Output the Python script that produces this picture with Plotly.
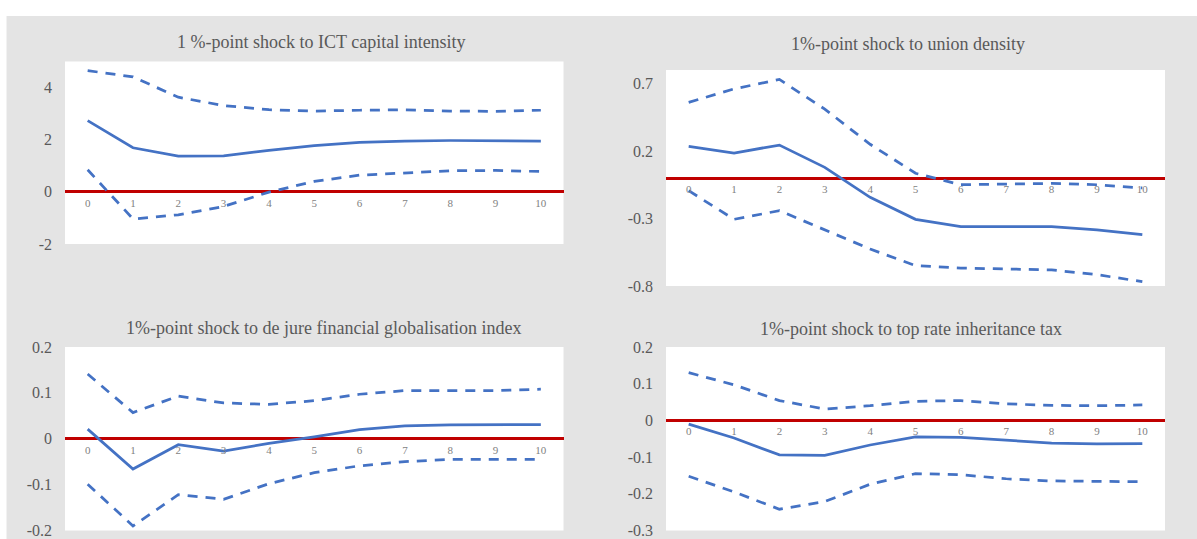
import plotly.graph_objects as go

# ---------------- data ----------------
horizon = list(range(11))
horizon_labels = [str(h) for h in horizon]

ict_upper = [4.65, 4.41, 3.63, 3.31, 3.15, 3.10, 3.13, 3.15, 3.10, 3.09, 3.13]
ict_irf = [2.73, 1.69, 1.37, 1.38, 1.59, 1.77, 1.90, 1.95, 1.97, 1.97, 1.95]
ict_lower = [0.85, -1.04, -0.88, -0.56, -0.01, 0.40, 0.64, 0.73, 0.81, 0.82, 0.78]

union_upper = [0.56, 0.66, 0.73, 0.51, 0.25, 0.035, -0.05, -0.044, -0.04, -0.05, -0.074]
union_irf = [0.235, 0.185, 0.244, 0.079, -0.143, -0.306, -0.36, -0.36, -0.36, -0.385, -0.42]
union_lower = [-0.094, -0.306, -0.242, -0.385, -0.526, -0.649, -0.667, -0.674, -0.681, -0.716, -0.768]

fin_upper = [0.141, 0.057, 0.093, 0.078, 0.075, 0.083, 0.097, 0.105, 0.105, 0.105, 0.108]
fin_irf = [0.021, -0.066, -0.013, -0.027, -0.01, 0.004, 0.020, 0.028, 0.030, 0.030, 0.031]
fin_lower = [-0.099, -0.19, -0.122, -0.132, -0.098, -0.074, -0.059, -0.05, -0.045, -0.045, -0.045]

inh_upper = [0.13, 0.097, 0.054, 0.031, 0.04, 0.052, 0.054, 0.045, 0.041, 0.04, 0.042]
inh_irf = [-0.01, -0.048, -0.094, -0.095, -0.067, -0.045, -0.046, -0.055, -0.062, -0.064, -0.063]
inh_lower = [-0.152, -0.195, -0.242, -0.221, -0.174, -0.145, -0.148, -0.159, -0.165, -0.167, -0.167]

titles = [
    "1 %-point shock to ICT capital intensity",
    "1%-point shock to union density",
    "1%-point shock to de jure financial globalisation index",
    "1%-point shock to top rate inheritance tax",
]
y_ticks = [
    [-2, 0, 2, 4],
    [-0.8, -0.3, 0.2, 0.7],
    [-0.2, -0.1, 0, 0.1, 0.2],
    [-0.3, -0.2, -0.1, 0, 0.1, 0.2],
]
y_ranges = [[-2, 5], [-0.8, 0.8], [-0.2, 0.2], [-0.3, 0.2]]

series = [
    (ict_upper, ict_irf, ict_lower),
    (union_upper, union_irf, union_lower),
    (fin_upper, fin_irf, fin_lower),
    (inh_upper, inh_irf, inh_lower),
]

# ---------------- layout (pixels) ----------------
W, H = 1197, 539
# plot boxes: x0, x1, y_top, y_bottom
boxes = [
    (65, 563.5, 61.5, 244),
    (666, 1165, 70, 286),
    (65, 563.5, 347, 530.5),
    (666, 1165, 347, 530.5),
]
title_pos = [(321, 42), (908, 44), (323, 328), (911, 329)]

BLUE = "#4472C4"
RED = "#C00000"
TXT = "#595959"
FONT = "Liberation Serif"

fig = go.Figure()
layout = dict(
    width=W, height=H,
    margin=dict(l=0, r=0, t=0, b=0, pad=0, autoexpand=False),
    paper_bgcolor="#E4E4E4",
    plot_bgcolor="white",
    showlegend=False,
    font=dict(family=FONT, color=TXT),
    annotations=[],
    shapes=[
        dict(type="rect", xref="paper", yref="paper", x0=0, x1=1,
             y0=1 - 16 / H, y1=1, fillcolor="white", line=dict(width=0), layer="above"),
        dict(type="rect", xref="paper", yref="paper", x0=0, x1=6.5 / W,
             y0=0, y1=1, fillcolor="white", line=dict(width=0), layer="above"),
    ],
)

for i, (box, (up, irf, lo)) in enumerate(zip(boxes, series)):
    n = i + 1
    xa = "x" if n == 1 else f"x{n}"
    ya = "y" if n == 1 else f"y{n}"
    x0, x1, yt, yb = box
    xdom = [x0 / W, x1 / W]
    ydom = [1 - yb / H, 1 - yt / H]
    ymin, ymax = y_ranges[i]
    zero_pos = ydom[0] + (0 - ymin) / (ymax - ymin) * (ydom[1] - ydom[0])

    for vals, dash in ((up, "10px,8px"), (irf, "solid"), (lo, "10px,8px")):
        fig.add_trace(go.Scatter(
            x=horizon, y=vals, mode="lines", xaxis=xa, yaxis=ya,
            line=dict(color=BLUE, width=2.75, dash=dash),
            hoverinfo="skip",
        ))

    layout["xaxis" if n == 1 else f"xaxis{n}"] = dict(
        domain=xdom, anchor="free", position=zero_pos,
        range=[-0.5, 10.5], tickvals=horizon, ticktext=horizon_labels,
        showgrid=False, zeroline=False, showline=False, ticks="",
        tickfont=dict(family=FONT, size=11, color="#7F7F7F"),
        ticklabelstandoff=3, fixedrange=True, automargin=False,
        ticklabeloverflow="allow",
    )
    layout["yaxis" if n == 1 else f"yaxis{n}"] = dict(
        domain=ydom, anchor=xa, range=y_ranges[i],
        tickvals=y_ticks[i], ticktext=[f"{v:g}" for v in y_ticks[i]],
        showgrid=False, showline=False, ticks="",
        zeroline=True, zerolinecolor=RED, zerolinewidth=2.5,
        tickfont=dict(family=FONT, size=16, color=TXT),
        ticklabelstandoff=12, fixedrange=True, automargin=False,
        ticklabeloverflow="allow",
    )
    tx, ty = title_pos[i]
    layout["annotations"].append(dict(
        text=titles[i], xref="paper", yref="paper",
        x=tx / W, y=1 - ty / H, xanchor="center", yanchor="middle",
        showarrow=False, font=dict(family=FONT, size=18, color=TXT),
    ))

fig.update_layout(**layout)
fig.write_html("out.html", config={"displayModeBar": False},
               post_script="document.body.style.margin='0';")
